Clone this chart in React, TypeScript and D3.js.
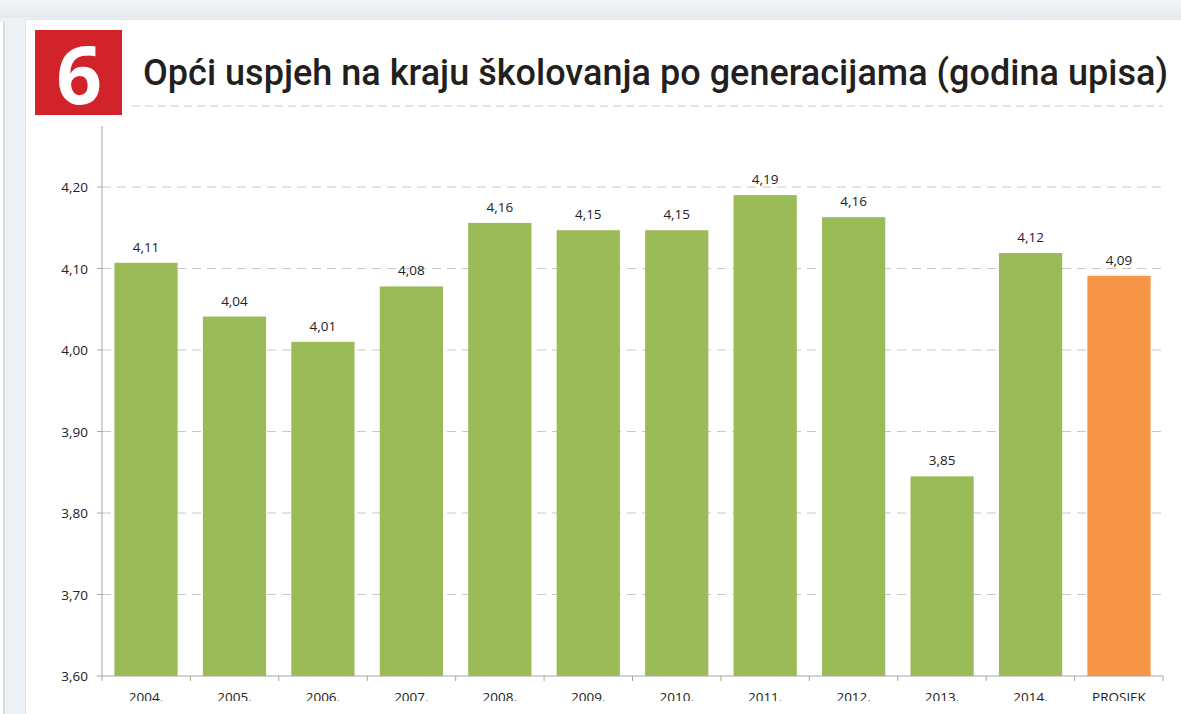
import React from 'react';
import * as d3 from 'd3';

const categories = ['2004.', '2005.', '2006.', '2007.', '2008.', '2009.', '2010.', '2011.', '2012.', '2013.', '2014.', 'PROSJEK'];
const values = [4.107, 4.041, 4.010, 4.078, 4.156, 4.147, 4.147, 4.190, 4.163, 3.845, 4.119, 4.091];
const yTicks = [3.6, 3.7, 3.8, 3.9, 4.0, 4.1, 4.2];
const title = 'Opći uspjeh na kraju školovanja po generacijama (godina upisa)';

const W = 1181, H = 714;
const left = 102, right = 1163, bottom = 676;

export default function App() {
  const x = d3.scaleBand<string>().domain(categories).range([left, right]).paddingInner(0.285).paddingOuter(0.14);
  const y = d3.scaleLinear().domain([3.6, 4.2]).range([bottom, 187]);
  const fmt = (v: number) => d3.format('.2f')(v).replace('.', ',');
  const bounds = categories.map((_, i) => left + i * ((right - left) / categories.length));
  bounds.push(right);

  return (
    <svg width={W} height={H} style={{ position: 'absolute', left: 0, top: 0 }} fontFamily="'Open Sans', sans-serif">
      <defs>
        <linearGradient id="topg" x1="0" y1="0" x2="0" y2="1">
          <stop offset="0" stopColor="#f3f6f8" />
          <stop offset="1" stopColor="#e3e9ee" />
        </linearGradient>
        <clipPath id="xclip">
          <rect x={0} y={0} width={W} height={701} />
        </clipPath>
      </defs>
      <rect x={0} y={0} width={W} height={H} fill="#edf2f6" />
      <rect x={0} y={0} width={W} height={18} fill="url(#topg)" />
      <rect x={0} y={22} width={3} height={H} fill="#ffffff" />
      <rect x={3} y={22} width={2} height={H} fill="#d5dce2" />
      <rect x={25} y={19} width={W} height={H} fill="#dfe5ea" />
      <rect x={26} y={20} width={W} height={H} fill="#ffffff" />

      <rect x={35} y={30} width={87} height={85} fill="#d2232a" />
      <text x={79} y={104} textAnchor="middle" fill="#ffffff" fontSize={80} fontWeight={700} fontFamily="'Open Sans', sans-serif">6</text>
      <text x={143} y={85} fill="#231f20" fontSize={36} fontWeight={500} fontFamily="Roboto" textLength={1025} lengthAdjust="spacing">{title}</text>
      <line x1={132} x2={1163} y1={106} y2={106} stroke="#c8c8c8" strokeDasharray="8,5" />

      {yTicks.map(t => (
        <g key={t}>
          {t > 3.6 && <line x1={left} x2={right} y1={y(t)} y2={y(t)} stroke="#c8c8c8" strokeDasharray="9,6" />}
          <line x1={left - 5} x2={left} y1={y(t)} y2={y(t)} stroke="#a6a6a6" />
          <text x={88} y={y(t) + 5} textAnchor="end" fontSize={13.5} fill="#222">{fmt(t)}</text>
        </g>
      ))}

      {categories.map((c, i) => (
        <g key={c}>
          <rect x={x(c)} y={y(values[i])} width={x.bandwidth()} height={bottom - y(values[i])}
            fill={c === 'PROSJEK' ? '#f79646' : '#9bbb59'} />
          <text x={(x(c) as number) + x.bandwidth() / 2} y={y(values[i]) - 11} textAnchor="middle" fontSize={13.5} fill="#222">{fmt(values[i])}</text>
          <text x={(x(c) as number) + x.bandwidth() / 2} y={702} textAnchor="middle" fontSize={13.5} fill="#222" clipPath="url(#xclip)">{c}</text>
        </g>
      ))}

      <line x1={left} x2={left} y1={126} y2={bottom} stroke="#a6a6a6" />
      <line x1={left} x2={right} y1={bottom} y2={bottom} stroke="#a6a6a6" />
      {bounds.map((b, i) => (
        <line key={i} x1={b} x2={b} y1={bottom} y2={bottom + 5} stroke="#a6a6a6" />
      ))}
    </svg>
  );
}
